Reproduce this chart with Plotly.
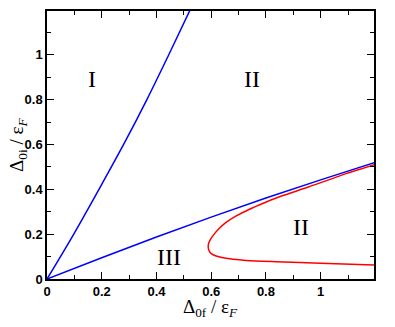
import plotly.graph_objects as go

# steep boundary (I / II)
steep_x = [0, 0.1, 0.19, 0.28, 0.365, 0.445, 0.523]
steep_y = [0, 0.205, 0.4, 0.6, 0.8, 1.0, 1.2]

# shallow boundary (II / III)
shallow_x = [0, 0.2, 0.4, 0.6, 0.8, 1.0, 1.2]
shallow_y = [0, 0.095, 0.187, 0.276, 0.361, 0.442, 0.52]

# red boundary, lower branch -> nose -> upper branch
red_x = [1.2, 1.0, 0.838, 0.728, 0.667, 0.635, 0.607, 0.596, 0.591, 0.589,
         0.591, 0.599, 0.611, 0.629, 0.652, 0.69, 0.738, 0.795, 0.857, 0.955, 1.07, 1.2]
red_y = [0.062, 0.07, 0.077, 0.083, 0.09, 0.097, 0.108, 0.118, 0.13, 0.145,
         0.16, 0.18, 0.2, 0.225, 0.25, 0.28, 0.31, 0.34, 0.37, 0.41, 0.46, 0.511]

region_text = ["I", "II", "II", "III"]
region_x = [0.165, 0.75, 0.93, 0.445]
region_y = [0.89, 0.89, 0.23, 0.1]

fig = go.Figure()
fig.add_trace(go.Scatter(x=steep_x, y=steep_y, mode="lines", line=dict(color="#0000ff", width=1.5, shape="spline")))
fig.add_trace(go.Scatter(x=shallow_x, y=shallow_y, mode="lines", line=dict(color="#0000ff", width=1.5, shape="spline")))
fig.add_trace(go.Scatter(x=red_x, y=red_y, mode="lines", line=dict(color="#ff0000", width=1.5, shape="spline", smoothing=0.8)))

for t, x, y in zip(region_text, region_x, region_y):
    fig.add_annotation(x=x, y=y, text=t, showarrow=False,
                       font=dict(family="Liberation Serif", size=24, color="black"))

title_font = dict(family="Liberation Serif", size=19, color="black")
# axis titles as annotations so they sit where the original has them
fig.add_annotation(xref="paper", yref="paper", x=0.5, y=-0.11, yanchor="middle",
                   text="Δ<sub>0f</sub> / ε<sub><i>F</i></sub>", showarrow=False, font=title_font)
fig.add_annotation(xref="paper", yref="paper", x=-0.089, y=0.5, xanchor="center",
                   text="Δ<sub>0i</sub> / ε<sub><i>F</i></sub>", textangle=-90, showarrow=False, font=title_font)

axis_style = dict(
    range=[0, 1.195], dtick=0.2, tick0=0, automargin=False,
    ticks="inside", ticklen=7, tickwidth=1.2, tickcolor="black",
    minor=dict(ticks="inside", ticklen=4, dtick=0.1, tickcolor="black", tickwidth=1.2),
    showline=True, linecolor="black", linewidth=1.5, mirror="allticks",
    showgrid=False, zeroline=False,
    tickfont=dict(family="Liberation Sans", size=13, color="black", weight="bold"),
)

fig.update_xaxes(**axis_style, ticklabelstandoff=0)
fig.update_yaxes(**axis_style)

# the page puts the plot 8px in from the top-left corner
fig.update_layout(
    width=387, height=319,
    margin=dict(l=39, r=21, t=3, b=48),
    plot_bgcolor="white", paper_bgcolor="white",
    showlegend=False,
)

fig.write_html("out.html")
